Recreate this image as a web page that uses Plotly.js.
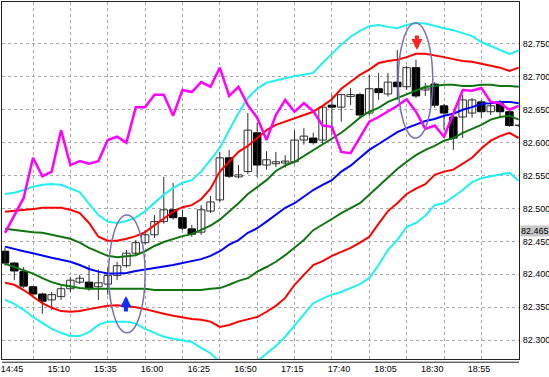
<!DOCTYPE html>
<html><head><meta charset="utf-8">
<script src="https://cdn.plot.ly/plotly-3.0.1.min.js"></script>
<style>html,body{margin:0;padding:0;background:#fff}#chart{width:549px;height:377px}</style>
</head><body><div id="chart"></div>
<script>
// time labels (5-minute bars, label every 5 bars)
const timeLabels = ["14:45","15:10","15:35","16:00","16:25","16:50","17:15","17:40","18:05","18:30","18:55"];
const barCount = 56;

const open  = [82.435,82.417,82.404,82.381,82.370,82.361,82.366,82.378,82.388,82.388,82.381,82.385,82.398,82.413,82.432,82.448,82.460,82.480,82.498,82.486,82.469,82.464,82.496,82.513,82.577,82.548,82.556,82.615,82.566,82.568,82.569,82.571,82.604,82.607,82.604,82.657,82.654,82.670,82.673,82.645,82.682,82.674,82.692,82.685,82.714,82.680,82.689,82.656,82.639,82.639,82.645,82.662,82.647,82.659,82.647,82.626];
const high  = [82.440,82.419,82.411,82.382,82.372,82.373,82.382,82.396,82.399,82.414,82.407,82.410,82.419,82.437,82.452,82.467,82.490,82.548,82.539,82.498,82.475,82.505,82.519,82.586,82.589,82.566,82.645,82.630,82.587,82.586,82.581,82.619,82.622,82.615,82.654,82.673,82.673,82.683,82.676,82.703,82.706,82.706,82.741,82.717,82.726,82.691,82.692,82.659,82.642,82.673,82.668,82.665,82.665,82.665,82.650,82.627];
const low   = [82.413,82.391,82.379,82.366,82.340,82.346,82.361,82.373,82.385,82.375,82.361,82.369,82.391,82.410,82.428,82.445,82.455,82.477,82.483,82.467,82.457,82.460,82.493,82.510,82.546,82.546,82.552,82.548,82.559,82.563,82.562,82.568,82.597,82.597,82.597,82.612,82.632,82.657,82.638,82.641,82.665,82.670,82.665,82.680,82.668,82.671,82.653,82.619,82.589,82.607,82.638,82.638,82.642,82.638,82.624,82.624];
const close = [82.417,82.405,82.382,82.370,82.359,82.369,82.378,82.391,82.394,82.378,82.387,82.398,82.413,82.432,82.448,82.460,82.480,82.498,82.486,82.470,82.461,82.498,82.510,82.577,82.549,82.551,82.619,82.566,82.574,82.571,82.572,82.604,82.610,82.600,82.654,82.654,82.673,82.673,82.642,82.682,82.676,82.692,82.685,82.714,82.671,82.683,82.657,82.645,82.607,82.665,82.665,82.647,82.656,82.647,82.626,82.626];

const cyanUpper = [82.522,82.524,82.528,82.533,82.536,82.537,82.536,82.531,82.525,82.507,82.490,82.480,82.478,82.481,82.486,82.496,82.508,82.521,82.531,82.539,82.543,82.556,82.574,82.592,82.619,82.645,82.668,82.682,82.691,82.695,82.698,82.701,82.703,82.706,82.721,82.735,82.749,82.761,82.770,82.777,82.779,82.776,82.774,82.779,82.782,82.781,82.777,82.774,82.771,82.767,82.762,82.753,82.747,82.740,82.735,82.740];
const redUpper = [82.495,82.496,82.498,82.499,82.501,82.501,82.501,82.498,82.493,82.478,82.457,82.451,82.451,82.454,82.458,82.464,82.474,82.484,82.495,82.502,82.505,82.514,82.530,82.556,82.571,82.586,82.595,82.607,82.619,82.627,82.632,82.636,82.642,82.647,82.656,82.666,82.682,82.692,82.703,82.711,82.721,82.724,82.726,82.730,82.735,82.735,82.733,82.730,82.727,82.724,82.723,82.720,82.717,82.714,82.709,82.714];
const greenUpper = [82.469,82.467,82.466,82.464,82.463,82.460,82.458,82.454,82.448,82.440,82.434,82.428,82.426,82.428,82.429,82.435,82.443,82.449,82.454,82.458,82.461,82.467,82.474,82.483,82.495,82.508,82.522,82.533,82.543,82.557,82.565,82.571,82.580,82.589,82.598,82.607,82.615,82.626,82.638,82.647,82.653,82.662,82.668,82.674,82.680,82.685,82.686,82.688,82.688,82.686,82.686,82.688,82.688,82.686,82.686,82.685];
const blueMiddle = [82.442,82.438,82.435,82.432,82.428,82.425,82.422,82.419,82.414,82.408,82.404,82.401,82.401,82.402,82.405,82.407,82.410,82.411,82.414,82.417,82.420,82.423,82.428,82.435,82.445,82.452,82.463,82.470,82.480,82.490,82.501,82.508,82.518,82.528,82.536,82.543,82.556,82.565,82.577,82.589,82.598,82.607,82.616,82.622,82.628,82.633,82.636,82.641,82.644,82.650,82.654,82.659,82.660,82.662,82.662,82.660];
const greenLower = [82.416,82.411,82.407,82.401,82.394,82.388,82.384,82.381,82.379,82.378,82.378,82.378,82.378,82.379,82.379,82.378,82.376,82.376,82.375,82.375,82.375,82.376,82.378,82.379,82.384,82.390,82.394,82.404,82.411,82.419,82.429,82.440,82.452,82.467,82.475,82.484,82.493,82.501,82.508,82.521,82.534,82.546,82.560,82.571,82.581,82.589,82.595,82.603,82.607,82.615,82.621,82.627,82.635,82.639,82.641,82.635];
const redLower = [82.387,82.384,82.376,82.366,82.356,82.349,82.344,82.343,82.344,82.347,82.350,82.352,82.353,82.352,82.350,82.347,82.343,82.340,82.337,82.334,82.332,82.331,82.328,82.320,82.323,82.328,82.331,82.335,82.343,82.352,82.364,82.384,82.399,82.414,82.420,82.428,82.434,82.440,82.448,82.457,82.477,82.496,82.508,82.522,82.530,82.537,82.551,82.556,82.559,82.568,82.577,82.591,82.603,82.610,82.615,82.607];
const cyanLower = [82.361,82.355,82.346,82.335,82.326,82.317,82.311,82.306,82.306,82.312,82.323,82.328,82.328,82.328,82.325,82.317,82.311,82.305,82.302,82.300,82.297,82.288,82.280,82.267,82.259,82.258,82.261,82.268,82.280,82.291,82.305,82.322,82.340,82.356,82.363,82.369,82.373,82.379,82.385,82.394,82.414,82.437,82.452,82.472,82.478,82.489,82.505,82.508,82.518,82.528,82.540,82.546,82.549,82.552,82.554,82.542];
const magentaLine = [82.463,82.490,82.516,82.577,82.549,82.556,82.619,82.566,82.572,82.568,82.572,82.604,82.609,82.600,82.654,82.654,82.673,82.673,82.641,82.680,82.677,82.692,82.685,82.714,82.671,82.685,82.657,82.638,82.604,82.642,82.665,82.647,82.660,82.648,82.626,82.624,82.586,82.584,82.609,82.632,82.639,82.647,82.656,82.666,82.647,82.621,82.626,82.609,82.645,82.680,82.679,82.683,82.662,82.660,82.650,82.656];

const priceTicks = [82.300,82.350,82.400,82.450,82.500,82.550,82.600,82.650,82.700,82.750];
const currentPrice = 82.465;

const idx = Array.from({length: barCount}, (_, i) => i);
const labelIdx = timeLabels.map((_, k) => k * 5);
const gridIdx = []; for (let i = 3; i < barCount; i += 4) gridIdx.push(i);

// candle pieces built from OHLC
const minBody = 0.0007;
const isUp = idx.map(i => close[i] >= open[i]);
const bodyBase = idx.map(i => Math.min(open[i], close[i]));
const bodyLen = idx.map(i => Math.max(Math.abs(close[i] - open[i]), minBody));
const wickX = [], wickY = [];
idx.forEach(i => { wickX.push(i, i, null); wickY.push(low[i], high[i], null); });

function line(y, color, w, xa) {
  return {type:'scatter', mode:'lines', x: idx, y: y, xaxis: xa || 'x', yaxis:'y',
    line:{color: color, width: w}, hoverinfo:'skip', showlegend:false};
}

const traces = [
  {type:'scatter', mode:'lines', x: wickX, y: wickY, line:{color:'#303030', width:1},
   hoverinfo:'skip', showlegend:false, connectgaps:false},
  {type:'bar', x: idx, base: idx.map(i => isUp[i] ? bodyBase[i] : null),
   y: idx.map(i => isUp[i] ? bodyLen[i] : null), width: 0.8,
   marker:{color:'#ffffff', line:{color:'#303030', width:1}}, hoverinfo:'skip', showlegend:false},
  {type:'bar', x: idx, base: idx.map(i => !isUp[i] ? bodyBase[i] : null),
   y: idx.map(i => !isUp[i] ? bodyLen[i] : null), width: 0.8,
   marker:{color:'#000000', line:{color:'#000000', width:1}}, hoverinfo:'skip', showlegend:false},
  line(cyanUpper, '#22f0f0', 2),
  line(cyanLower, '#22f0f0', 2),
  line(redUpper, '#ff0000', 2),
  line(redLower, '#ff0000', 2),
  line(greenUpper, '#107510', 2),
  line(greenLower, '#107510', 2),
  line(blueMiddle, '#0000ff', 2),
  line(magentaLine, '#ff00ff', 2.5, 'x2')
];

const xr = [-0.32, 55.03];
const layout = {
  width: 549, height: 377,
  margin: {l: 2, r: 30, t: 2, b: 18},
  paper_bgcolor: '#ffffff', plot_bgcolor: '#ffffff',
  showlegend: false,
  barmode: 'overlay',
  xaxis: {range: xr, type:'linear', tickvals: gridIdx, showticklabels:false, ticks:'',
    showgrid:true, gridcolor:'#a8a8a8', griddash:'dot', gridwidth:1, zeroline:false,
    showline:true, linecolor:'#222', linewidth:1, mirror:true, fixedrange:true},
  xaxis2: {range: xr, type:'linear', overlaying:'x', side:'bottom', tickvals: labelIdx, ticktext: timeLabels,
    showgrid:false, zeroline:false, ticks:'', ticklabelshift: 7, ticklabelstandoff: 3,
    tickfont:{family:'Liberation Sans, Arial', size: 9, color:'#000'}, showline:false, fixedrange:true},
  yaxis: {range: [82.2712, 82.8138], side:'right', tickvals: priceTicks,
    ticktext: priceTicks.map(v => v.toFixed(3)), ticks:'',
    showgrid:true, gridcolor:'#a8a8a8', griddash:'dot', gridwidth:1, zeroline:false,
    showline:true, linecolor:'#222', linewidth:1, mirror:true, ticklabelstandoff: 1,
    tickfont:{family:'Liberation Sans, Arial', size: 9, color:'#000'}, fixedrange:true},
  shapes: [
    {type:'circle', xref:'x', yref:'y', x0: 11.1, x1: 15.0, y0: 82.311, y1: 82.490,
     line:{color:'#7a70b8', width:1.5}, fillcolor:'rgba(0,0,0,0)'},
    {type:'circle', xref:'x', yref:'y', x0: 42.1, x1: 45.8, y0: 82.607, y1: 82.782,
     line:{color:'#7a70b8', width:1.5}, fillcolor:'rgba(0,0,0,0)'},
    {type:'line', xref:'paper', yref:'paper', x0: 0, x1: 1, y0: -0.009, y1: -0.009,
     line:{color:'#222', width:1}}
  ],
  annotations: [
    {x: 12.95, y: 82.367, xref:'x', yref:'y', ax: 0, ay: 17, showarrow:true,
     arrowhead:2, arrowsize:0.55, arrowwidth:4, arrowcolor:'#1030ff', text:''},
    {x: 44.1, y: 82.741, xref:'x', yref:'y', ax: 0, ay: -16, showarrow:true,
     arrowhead:2, arrowsize:0.55, arrowwidth:4, arrowcolor:'#ff2020', text:''},
    {x: 1, xref:'paper', y: currentPrice, yref:'y', xanchor:'left', yanchor:'middle', xshift: 1,
     text: currentPrice.toFixed(3), showarrow:false, bgcolor:'#c8c8c8', borderpad:0,
     font:{family:'Liberation Sans, Arial', size:9, color:'#000'}}
  ]
};

Plotly.newPlot('chart', traces, layout, {staticPlot:true, displayModeBar:false});
</script></body></html>
